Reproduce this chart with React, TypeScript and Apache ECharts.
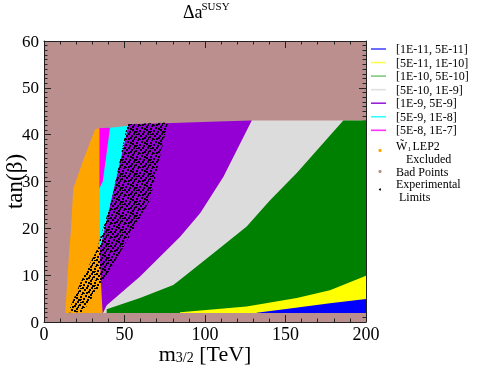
import React, { useEffect, useRef } from 'react';
import * as echarts from 'echarts';

// ---- region boundaries (m3/2 [TeV], tan beta) ----
const grayRegion: [number, number][] = [
  [36.6, 1.9], [200, 1.9], [200, 43], [129, 43], [111.4, 31], [96.9, 23.2],
  [84.5, 18.2], [59.6, 9.7], [38.9, 3.6],
];
const greenRegion: [number, number][] = [
  [38.9, 1.9], [200, 1.9], [200, 43], [185.9, 43], [173.5, 38.2], [157, 31.8],
  [140.4, 26], [125.9, 20.4], [105.2, 14.7], [84.5, 9], [80.3, 7.9], [59.6, 5.1], [38.9, 2.7],
];
const yellowRegion: [number, number][] = [
  [84.5, 1.9], [200, 1.9], [200, 9.9], [177.6, 6.8], [157, 5.1], [125.9, 3.3], [84.5, 2.1],
];
const blueRegion: [number, number][] = [
  [132.1, 1.9], [200, 1.9], [200, 4.9], [177.6, 4], [152.8, 2.9], [132.1, 2],
];
const purpleRegion: [number, number][] = [
  [52.4, 42.2], [80, 42.5], [108, 42.8], [129, 43], [111.4, 31], [96.9, 23.2],
  [84.5, 18.2], [59.6, 9.7], [38.9, 3.6], [36.6, 1.9], [35.8, 1.9], [34.5, 9], [34.8, 15.7],
];
const cyanRegion: [number, number][] = [
  [41, 41.5], [52.4, 41.9], [34.8, 15.7], [34.3, 15.7], [34.3, 41.4],
];
const magentaRegion: [number, number][] = [
  [34.3, 41.4], [41, 41.5], [36.5, 30], [34.3, 28.5],
];
const orangeRegion: [number, number][] = [
  [31.7, 41.1], [34.3, 41.4], [34.3, 15.4], [36.4, 1.9], [13.2, 1.9], [15.7, 15.4],
  [16.6, 19], [18.2, 28.5], [24.4, 34.6],
];
const expLimitRegion: [number, number][] = [
  [51.7, 42.2], [42, 26], [32.7, 15.4], [22.4, 8.3], [15, 2.1], [24, 2.1],
  [35.8, 8.3], [48.3, 15.4], [65.8, 26], [77, 42.6],
];

const legendRanges = [
  '[1E-11, 5E-11]', '[5E-11, 1E-10]', '[1E-10, 5E-10]', '[5E-10, 1E-9]',
  '[1E-9, 5E-9]', '[5E-9, 1E-8]', '[5E-8, 1E-7]',
];
const legendLineColors = ['#4848ff', '#ffff50', '#80c880', '#e0e0e0', '#9a20dc', '#30ffff', '#ff30ff'];

const BG = '#bc8f8f';
const FONT = '"Liberation Serif", "Times New Roman", serif';

// dot tile style for the experimental-limit band
const DOT_TILE: [number, number, number, number][] = [
  [1, 1, 2, 2], [6, 0, 2, 2], [10, 2, 2, 2], [3, 5, 2, 2], [8, 5, 3, 2], [12, 7, 2, 2],
  [0, 9, 2, 2], [5, 9, 2, 2], [9, 10, 2, 2], [2, 12, 2, 2], [7, 13, 2, 1], [12, 12, 2, 2],
  [4, 2, 2, 2], [11, 0, 2, 1], [6, 3, 2, 2], [2, 7, 2, 2], [10, 8, 2, 1], [4, 11, 2, 2],
  [13, 4, 1, 2], [7, 7, 2, 2], [0, 4, 1, 2], [11, 5, 1, 1], [8, 11, 1, 2], [0, 13, 1, 1],
];

function polySeries(name: string, pts: [number, number][], fill: any) {
  return {
    type: 'custom',
    name,
    silent: true,
    data: pts,
    encode: { x: 0, y: 1 },
    renderItem: (params: any, api: any) => {
      if (params.dataIndex !== 0) return null;
      const points = pts.map((p) => api.coord(p));
      return { type: 'polygon', shape: { points }, style: { fill } };
    },
  };
}

function axisCommon(interval: number, minorSplit: number) {
  return {
    type: 'value',
    interval,
    axisLine: { show: true, onZero: false, lineStyle: { color: '#222', width: 1 } },
    axisTick: { show: true, inside: true, length: 7, lineStyle: { color: '#222' } },
    minorTick: { show: true, splitNumber: minorSplit, length: 3.5, lineStyle: { color: '#222' } },
    splitLine: { show: false },
    minorSplitLine: { show: false },
  };
}

export default function App() {
  const ref = useRef<HTMLDivElement>(null);
  useEffect(() => {
    if (!ref.current) return;
    const c = document.createElement('canvas');
    c.width = 14;
    c.height = 14;
    const ctx = c.getContext('2d')!;
    ctx.fillStyle = '#000';
    DOT_TILE.forEach(([x, y, w, h]) => ctx.fillRect(x, y, w, h));
    const dotPattern = { image: c.toDataURL(), repeat: 'repeat', imageWidth: 14, imageHeight: 14 };

    const chart = echarts.init(ref.current, null, { renderer: 'svg' });
    const legendGraphics: any[] = [];
    const ly0 = 49;
    const lstep = 13.55;
    const txt = (text: string, x: number, y: number, size: number) => ({
      type: 'text', x, y,
      style: {
        text, font: `${size}px ${FONT}`, fill: '#000', lineHeight: size,
        align: 'left', verticalAlign: 'middle', textAlign: 'left', textVerticalAlign: 'middle',
      },
    });
    legendRanges.forEach((t, i) => {
      const y = ly0 + i * lstep;
      legendGraphics.push({
        type: 'line',
        shape: { x1: 371, y1: y, x2: 386, y2: y },
        style: { stroke: legendLineColors[i], lineWidth: 1.6 },
      });
      legendGraphics.push(txt(t, 396, y, 12));
    });
    legendGraphics.push(
      { type: 'circle', shape: { cx: 380, cy: 150.5, r: 1.6 }, style: { fill: '#ffa500' } },
      txt('W\u0303', 396, 146, 12),
      txt('1', 407.5, 149.3, 7),
      txt('LEP2', 412.5, 146, 12),
      txt('Excluded', 406, 158.6, 12),
      { type: 'circle', shape: { cx: 380, cy: 171.5, r: 1.6 }, style: { fill: BG } },
      txt('Bad Points', 396, 171.5, 12),
      { type: 'circle', shape: { cx: 380, cy: 189.5, r: 1 }, style: { fill: '#000' } },
      txt('Experimental', 396, 184, 12),
      txt('Limits', 399, 197, 12),
      txt('\u0394a', 183, 11.5, 18),
      txt('SUSY', 201.5, 5.5, 11),
    );

    chart.setOption({
      animation: false,
      grid: {
        left: 44, top: 41, width: 322, height: 281, show: true, backgroundColor: BG, borderWidth: 0,
        containLabel: false, outerBoundsMode: 'none',
      },
      xAxis: [
        {
          ...axisCommon(50, 5), min: 0, max: 200, position: 'bottom',
          axisLabel: { fontFamily: FONT, fontSize: 18, lineHeight: 14, color: '#000', margin: 5 },
          name: '{m|m}{s|3/2}{m| [TeV]}',
          nameLocation: 'middle', nameGap: 20, nameMoveOverlap: false,
          nameTextStyle: {
            rich: {
              m: { fontFamily: FONT, fontSize: 22, color: '#000', lineHeight: 22 },
              s: { fontFamily: FONT, fontSize: 14, color: '#000', verticalAlign: 'bottom', lineHeight: 8 },
            },
          },
        },
        { ...axisCommon(50, 5), min: 0, max: 200, position: 'top', axisLabel: { show: false } },
      ],
      yAxis: [
        {
          ...axisCommon(10, 10), min: 0, max: 60, position: 'left',
          axisLabel: { fontFamily: FONT, fontSize: 17, color: '#000', margin: 5 },
          name: 'tan(\u03B2)', nameLocation: 'middle', nameGap: 18, nameRotate: 90, nameMoveOverlap: false,
          nameTextStyle: { fontFamily: FONT, fontSize: 23, color: '#000' },
        },
        { ...axisCommon(10, 10), min: 0, max: 60, position: 'right', axisLabel: { show: false } },
      ],
      series: [
        polySeries('[5E-10, 1E-9]', grayRegion, '#dcdcdc'),
        polySeries('[1E-10, 5E-10]', greenRegion, '#008000'),
        polySeries('[5E-11, 1E-10]', yellowRegion, '#ffff00'),
        polySeries('[1E-11, 5E-11]', blueRegion, '#0000ff'),
        polySeries('[1E-9, 5E-9]', purpleRegion, '#9400d3'),
        polySeries('[5E-9, 1E-8]', cyanRegion, '#00ffff'),
        polySeries('[5E-8, 1E-7]', magentaRegion, '#ff00ff'),
        polySeries('LEP2 Excluded', orangeRegion, '#ffa500'),
        polySeries('Experimental Limits', expLimitRegion, dotPattern),
      ],
      graphic: legendGraphics,
    });
    return () => chart.dispose();
  }, []);
  return <div ref={ref} style={{ position: 'fixed', left: 0, top: 0, width: 488, height: 389 }} />;
}
